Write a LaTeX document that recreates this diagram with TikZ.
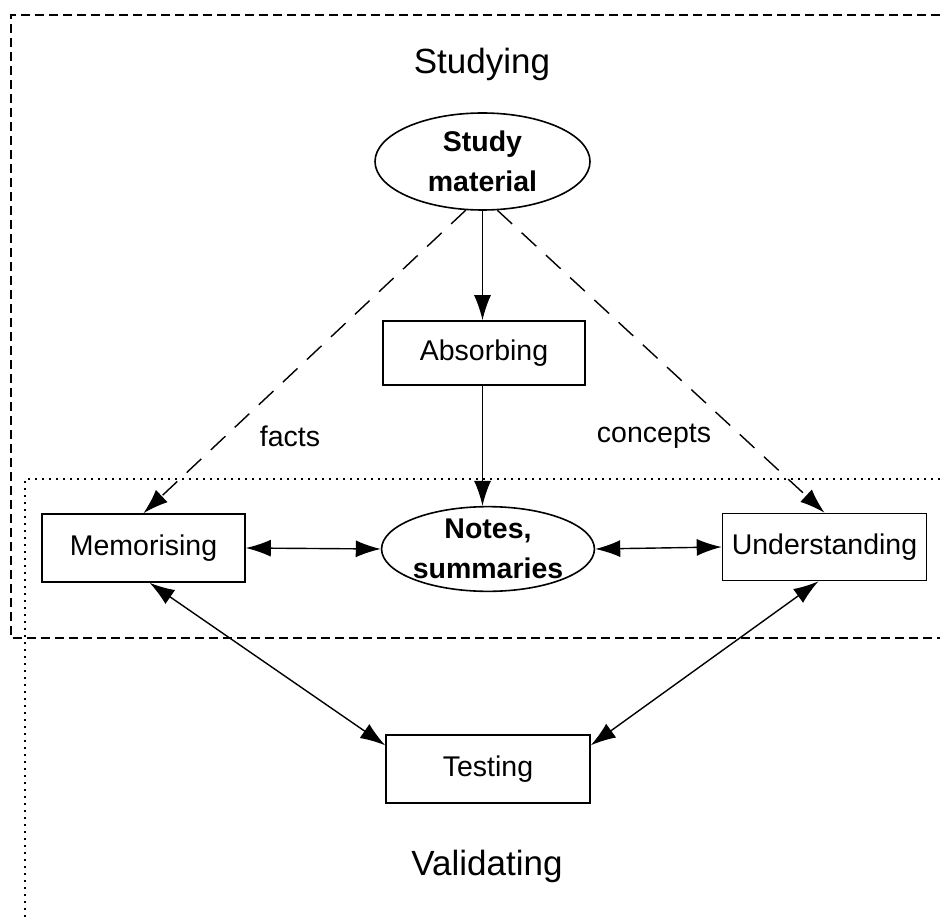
\documentclass[tikz,border=0pt]{standalone}
\usepackage{fontspec}
\setmainfont{Liberation Sans}
\usetikzlibrary{shapes.geometric,arrows.meta}
\begin{document}
\begin{tikzpicture}[x=1pt,y=-1pt,
  lbl/.style={font=\fontsize{28.5}{34}\selectfont},
  big/.style={font=\fontsize{35}{42}\selectfont},
  boxn/.style={draw,line width=1.6pt,rectangle,inner sep=0pt,font=\fontsize{28.5}{34}\selectfont},
  elln/.style={draw,line width=1.6pt,ellipse,inner sep=0pt,align=center,font=\fontsize{28.5}{40}\selectfont\bfseries},
  arr/.style={line width=1.4pt,-{Latex[length=25pt,width=17pt]}},
  darr/.style={line width=1.4pt,{Latex[length=25pt,width=17pt]}-{Latex[length=25pt,width=17pt]}},
  dasharr/.style={arr,dash pattern=on 20pt off 13pt},
  frame/.style={line width=1.6pt,dash pattern=on 9pt off 5pt},
  dotframe/.style={line width=1.8pt,dash pattern=on 1.8pt off 5.2pt}
]
\useasboundingbox (0,0) rectangle (940,917);
% frames
\draw[frame] (940,15) -- (11,15) -- (11,638) -- (940,638);
\draw[dotframe] (940,479) -- (25,479) -- (25,917);
% titles
\node[big] (studying) at (482,64) {Studying};
\node[big] (validating) at (487,866) {Validating};
% nodes
\node[elln,minimum width=215pt,minimum height=97pt] (sm) at (482.5,161.5) {Study\\material};
\node[boxn,minimum width=202pt,minimum height=64pt] (abs) at (484,353) {Absorbing};
\node[boxn,minimum width=203pt,minimum height=68pt] (mem) at (143.5,548) {Memorising};
\node[elln,minimum width=200pt,minimum height=84pt] (notes) at (488,549) {Notes,\\summaries};
\node[boxn,minimum width=204pt,minimum height=67pt] (und) at (824.5,547) {Understanding};
\node[boxn,minimum width=204pt,minimum height=68pt] (test) at (488,769) {Testing};
% labels
\node[lbl] (facts) at (290,436) {facts};
\node[lbl] (concepts) at (654,436) {concepts};
% connectors
\draw[arr] (sm.south) -- (sm.south |- abs.north);
\draw[arr] (abs.south -| sm.south) -- (sm.south |- notes.north);
\draw[dasharr] (sm.-109) -- (mem.north);
\draw[dasharr] (sm.-73) -- (und.north);
\draw[darr] (mem.east) -- (notes.west);
\draw[darr] (notes.east) -- (und.west);
\draw[darr] (mem.-80) -- (test.167);
\draw[darr] (und.-100) -- (test.13);
\end{tikzpicture}
\end{document}
